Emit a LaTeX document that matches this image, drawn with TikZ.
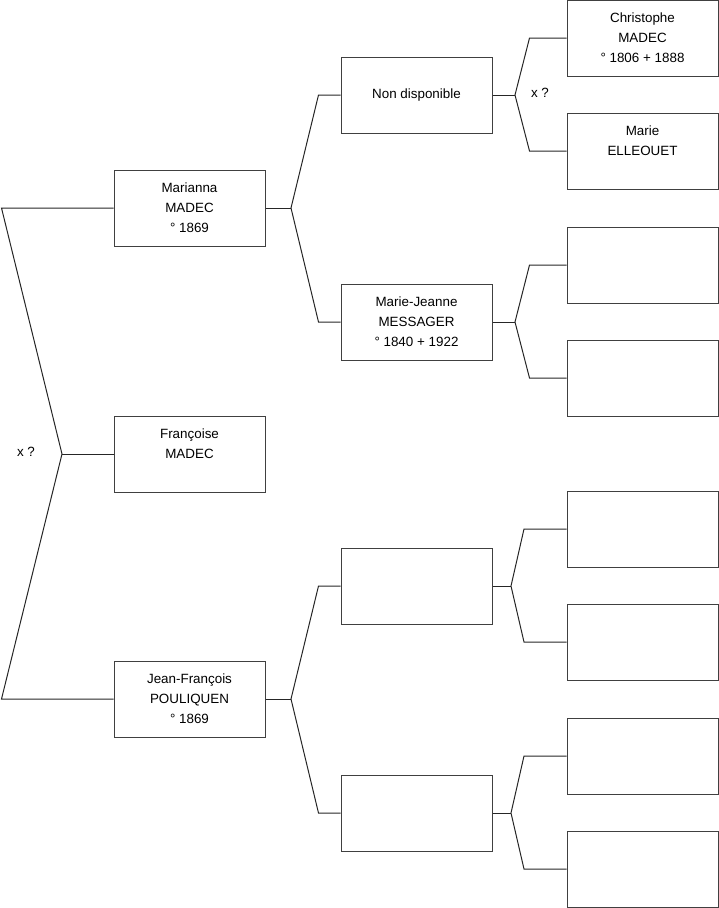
\documentclass[tikz,border=0pt]{standalone}
\usepackage{fontspec}
\setmainfont{Liberation Sans}
\usetikzlibrary{positioning}

\tikzset{
    person/.style={draw=black!75, line width=1pt, minimum width=151, minimum height=76,
        inner sep=0, align=center, font=\fontsize{13.4}{20}\selectfont},
    branch/.style={draw=black!85, line width=1pt},
    marriage/.style={font=\fontsize{13.4}{20}\selectfont}
}

\begin{document}
\begin{tikzpicture}[x=1pt,y=-1pt]
    \useasboundingbox (0,0) rectangle (719,908);
    \pgfmathsetmacro{\colone}{189.5}
    \pgfmathsetmacro{\coltwo}{416.5}
    \pgfmathsetmacro{\colthree}{642.5}

    % children
    \node[person] (marianna) at (\colone,208) {Marianna\\MADEC\\° 1869};
    \node[person] (francoise) at (\colone,454) {Françoise\\MADEC\\~};
    \node[person] (jeanfrancois) at (\colone,699) {Jean-François\\POULIQUEN\\° 1869};

    % parents
    \node[person] (nondispo) at (\coltwo,95) {Non disponible};
    \node[person] (mariejeanne) at (\coltwo,322) {Marie-Jeanne\\MESSAGER\\° 1840 + 1922};
    \node[person] (pere) at (\coltwo,586) {};
    \node[person] (mere) at (\coltwo,813) {};

    % grand-parents
    \node[person] (christophe) at (\colthree,38) {Christophe\\MADEC\\° 1806 + 1888};
    \node[person] (marie) at (\colthree,151) {Marie\\ELLEOUET\\~};
    \foreach \y [count=\i from 3] in {265,378,529,642,756,869}
        \node[person] (gp\i) at (\colthree,\y) {};

    % siblings
    \coordinate (root) at (62,454);
    \coordinate (roottop) at (1.5,208);
    \coordinate (rootbot) at (1.5,699);
    \draw[branch] (marianna.west) -- (roottop) -- (root) -- (rootbot) -- (jeanfrancois.west);
    \draw[branch] (root) -- (francoise.west);
    \node[marriage] (xroot) at (26,452) {x ?};

    % child -> parents
    \coordinate (fa) at (291,208);
    \coordinate (fatop) at (318.5,95);
    \coordinate (fabot) at (318.5,322);
    \draw[branch] (marianna.east) -- (fa);
    \draw[branch] (nondispo.west) -- (fatop) -- (fa) -- (fabot) -- (mariejeanne.west);

    \coordinate (fb) at (291,699);
    \coordinate (fbtop) at (318.5,586);
    \coordinate (fbbot) at (318.5,813);
    \draw[branch] (jeanfrancois.east) -- (fb);
    \draw[branch] (pere.west) -- (fbtop) -- (fb) -- (fbbot) -- (mere.west);

    % parents -> grand-parents
    \coordinate (fc) at (515,95);
    \coordinate (fctop) at (529.5,38);
    \coordinate (fcbot) at (529.5,151);
    \draw[branch] (nondispo.east) -- (fc);
    \draw[branch] (christophe.west) -- (fctop) -- (fc) -- (fcbot) -- (marie.west);
    \node[marriage] (xfc) at (540,93) {x ?};

    \coordinate (fd) at (515,322);
    \coordinate (fdtop) at (529.5,265);
    \coordinate (fdbot) at (529.5,378);
    \draw[branch] (mariejeanne.east) -- (fd);
    \draw[branch] (gp3.west) -- (fdtop) -- (fd) -- (fdbot) -- (gp4.west);

    \coordinate (fe) at (511,586);
    \coordinate (fetop) at (524,529);
    \coordinate (febot) at (524,642);
    \draw[branch] (pere.east) -- (fe);
    \draw[branch] (gp5.west) -- (fetop) -- (fe) -- (febot) -- (gp6.west);

    \coordinate (ff) at (511,813);
    \coordinate (fftop) at (524,756);
    \coordinate (ffbot) at (524,869);
    \draw[branch] (mere.east) -- (ff);
    \draw[branch] (gp7.west) -- (fftop) -- (ff) -- (ffbot) -- (gp8.west);
\end{tikzpicture}
\end{document}
